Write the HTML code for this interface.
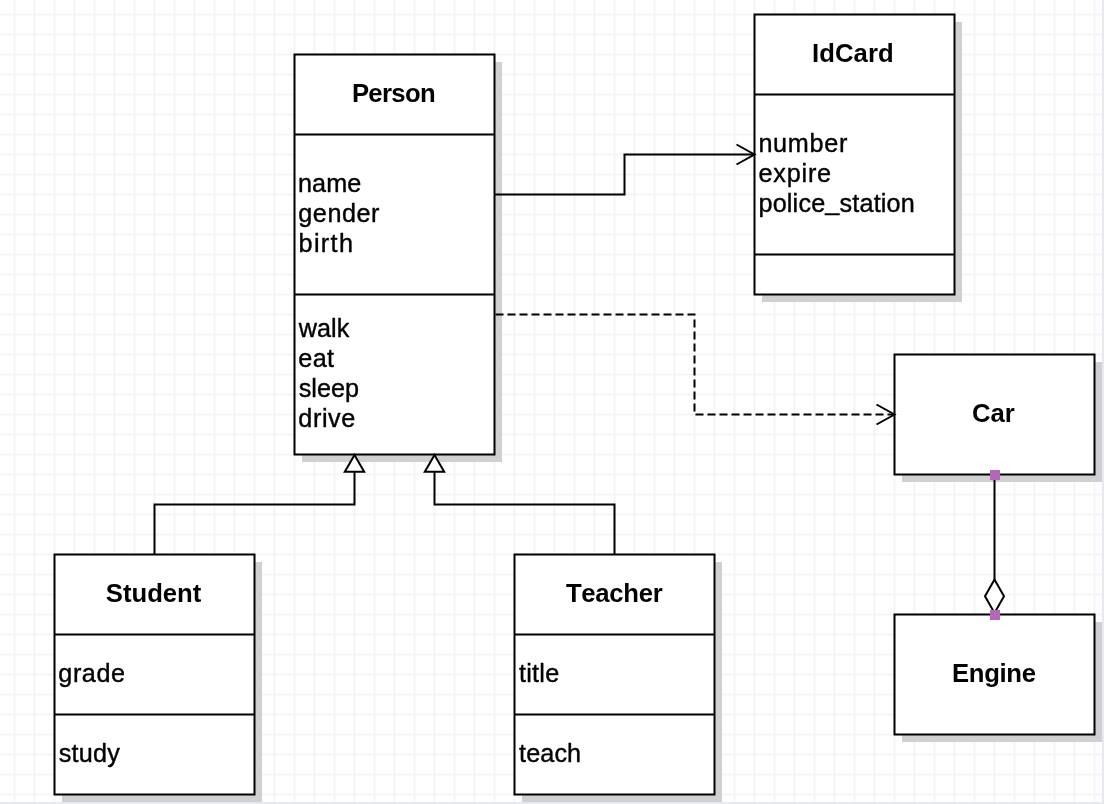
<!DOCTYPE html>
<html><head><meta charset="utf-8"><style>
html,body{margin:0;padding:0;background:#fff;}
svg{display:block;}
text{font-family:"Liberation Sans",sans-serif;fill:#000;font-kerning:none;font-feature-settings:"kern" 0,"liga" 0;}
</style></head><body>
<svg width="1104" height="804" viewBox="0 0 1104 804">
<rect width="1104" height="804" fill="#fff"/>
<path d="M14.5 0V804M34.5 0V804M54.5 0V804M74.5 0V804M94.5 0V804M114.5 0V804M134.5 0V804M154.5 0V804M174.5 0V804M194.5 0V804M214.5 0V804M234.5 0V804M254.5 0V804M274.5 0V804M294.5 0V804M314.5 0V804M334.5 0V804M354.5 0V804M374.5 0V804M394.5 0V804M414.5 0V804M434.5 0V804M454.5 0V804M474.5 0V804M494.5 0V804M514.5 0V804M534.5 0V804M554.5 0V804M574.5 0V804M594.5 0V804M614.5 0V804M634.5 0V804M654.5 0V804M674.5 0V804M694.5 0V804M714.5 0V804M734.5 0V804M754.5 0V804M774.5 0V804M794.5 0V804M814.5 0V804M834.5 0V804M854.5 0V804M874.5 0V804M894.5 0V804M914.5 0V804M934.5 0V804M954.5 0V804M974.5 0V804M994.5 0V804M1014.5 0V804M1034.5 0V804M1054.5 0V804M1074.5 0V804M1094.5 0V804M0 14.5H1104M0 34.5H1104M0 54.5H1104M0 74.5H1104M0 94.5H1104M0 114.5H1104M0 134.5H1104M0 154.5H1104M0 174.5H1104M0 194.5H1104M0 214.5H1104M0 234.5H1104M0 254.5H1104M0 274.5H1104M0 294.5H1104M0 314.5H1104M0 334.5H1104M0 354.5H1104M0 374.5H1104M0 394.5H1104M0 414.5H1104M0 434.5H1104M0 454.5H1104M0 474.5H1104M0 494.5H1104M0 514.5H1104M0 534.5H1104M0 554.5H1104M0 574.5H1104M0 594.5H1104M0 614.5H1104M0 634.5H1104M0 654.5H1104M0 674.5H1104M0 694.5H1104M0 714.5H1104M0 734.5H1104M0 754.5H1104M0 774.5H1104M0 794.5H1104" stroke="#f5f5f5" stroke-width="2" fill="none"/>
<rect x="302.0" y="62.0" width="200" height="400" fill="#d0d0d0"/><rect x="762.0" y="22.0" width="200" height="280" fill="#d0d0d0"/><rect x="902.0" y="362.0" width="200" height="120" fill="#d0d0d0"/><rect x="902.0" y="622.0" width="200" height="120" fill="#d0d0d0"/><rect x="62.0" y="562.0" width="200" height="240" fill="#d0d0d0"/><rect x="522.0" y="562.0" width="200" height="240" fill="#d0d0d0"/>
<rect x="294.5" y="54.5" width="200" height="400" fill="#fff" stroke="#000" stroke-width="2"/><path d="M294.5 134.5H494.5" stroke="#000" stroke-width="2"/><path d="M294.5 294.5H494.5" stroke="#000" stroke-width="2"/><rect x="754.5" y="14.5" width="200" height="280" fill="#fff" stroke="#000" stroke-width="2"/><path d="M754.5 94.5H954.5" stroke="#000" stroke-width="2"/><path d="M754.5 254.5H954.5" stroke="#000" stroke-width="2"/><rect x="894.5" y="354.5" width="200" height="120" fill="#fff" stroke="#000" stroke-width="2"/><rect x="894.5" y="614.5" width="200" height="120" fill="#fff" stroke="#000" stroke-width="2"/><rect x="54.5" y="554.5" width="200" height="240" fill="#fff" stroke="#000" stroke-width="2"/><path d="M54.5 634.5H254.5" stroke="#000" stroke-width="2"/><path d="M54.5 714.5H254.5" stroke="#000" stroke-width="2"/><rect x="514.5" y="554.5" width="200" height="240" fill="#fff" stroke="#000" stroke-width="2"/><path d="M514.5 634.5H714.5" stroke="#000" stroke-width="2"/><path d="M514.5 714.5H714.5" stroke="#000" stroke-width="2"/>

<g fill="none" stroke="#000" stroke-width="2">
<path d="M494.5 194.5H624.5V154.5H753"/>
<path d="M736.5 144.5L754.5 154.5L736.5 164.5"/>
<path d="M494.5 314.5H694.5V414.5H893" stroke-dasharray="8 4" stroke-dashoffset="-1"/>
<path d="M876.5 404.5L894.5 414.5L876.5 424.5"/>
<path d="M154.5 554.5V504.5H354.5V472"/>
<path d="M614.5 554.5V504.5H434.5V472"/>
<path d="M994.5 474.5V580"/>
</g>
<g fill="#fff" stroke="#000" stroke-width="2">
<path d="M354.5 455L364.2 471.8H344.8Z"/>
<path d="M434.5 455L444.2 471.8H424.8Z"/>
<path d="M994.5 579.6L1004 596.3L994.5 613L985 596.3Z"/>
</g>
<rect x="990" y="470" width="10" height="10" fill="#b466b8"/>
<rect x="990" y="610" width="10" height="10" fill="#b466b8"/>

<g style="opacity:0.999"><text transform="translate(351.88,102) scale(1.0000,1)" font-weight="bold" font-size="25.7" letter-spacing="-0.643">Person</text><text transform="translate(811.98,62) scale(1.0000,1)" font-weight="bold" font-size="25.7" letter-spacing="0.084">IdCard</text><text transform="translate(971.95,422) scale(1.0000,1)" font-weight="bold" font-size="25.7" letter-spacing="0.044">Car</text><text transform="translate(952.08,682) scale(1.0000,1)" font-weight="bold" font-size="25.7" letter-spacing="-0.355">Engine</text><text transform="translate(105.76,602) scale(1.0000,1)" font-weight="bold" font-size="25.7" letter-spacing="0.001">Student</text><text transform="translate(565.91,602) scale(1.0000,1)" font-weight="bold" font-size="25.7" letter-spacing="-0.282">Teacher</text><text transform="translate(298.03,191.8) scale(1.0000,1)" font-weight="normal" font-size="25.2" letter-spacing="0.085" stroke="#000" stroke-width="0.4">name</text><text transform="translate(298.34,221.8) scale(1.0000,1)" font-weight="normal" font-size="25.2" letter-spacing="0.522" stroke="#000" stroke-width="0.4">gender</text><text transform="translate(298.58,251.8) scale(1.0000,1)" font-weight="normal" font-size="25.2" letter-spacing="1.335" stroke="#000" stroke-width="0.4">birth</text><text transform="translate(298.74,337.2) scale(1.0000,1)" font-weight="normal" font-size="25.2" letter-spacing="0.038" stroke="#000" stroke-width="0.4">walk</text><text transform="translate(298.33,367.2) scale(1.0000,1)" font-weight="normal" font-size="25.2" letter-spacing="0.312" stroke="#000" stroke-width="0.4">eat</text><text transform="translate(298.70,397.2) scale(1.0000,1)" font-weight="normal" font-size="25.2" letter-spacing="0.029" stroke="#000" stroke-width="0.4">sleep</text><text transform="translate(298.34,427.2) scale(1.0000,1)" font-weight="normal" font-size="25.2" letter-spacing="0.589" stroke="#000" stroke-width="0.4">drive</text><text transform="translate(758.38,151.9) scale(1.0000,1)" font-weight="normal" font-size="25.2" letter-spacing="0.720" stroke="#000" stroke-width="0.4">number</text><text transform="translate(758.53,181.9) scale(1.0000,1)" font-weight="normal" font-size="25.2" letter-spacing="0.791" stroke="#000" stroke-width="0.4">expire</text><text transform="translate(758.48,211.9) scale(1.0000,1)" font-weight="normal" font-size="25.2" letter-spacing="0.174" stroke="#000" stroke-width="0.4">police<tspan dy="-2">_</tspan><tspan dy="2">station</tspan></text><text transform="translate(58.34,681.9) scale(1.0000,1)" font-weight="normal" font-size="25.2" letter-spacing="0.556" stroke="#000" stroke-width="0.4">grade</text><text transform="translate(58.70,761.7) scale(1.0000,1)" font-weight="normal" font-size="25.2" letter-spacing="0.255" stroke="#000" stroke-width="0.4">study</text><text transform="translate(519.02,681.9) scale(1.0000,1)" font-weight="normal" font-size="25.2" letter-spacing="0.247" stroke="#000" stroke-width="0.4">title</text><text transform="translate(519.02,761.7) scale(1.0000,1)" font-weight="normal" font-size="25.2" letter-spacing="0.118" stroke="#000" stroke-width="0.4">teach</text></g>
<rect x="1102" y="0" width="2" height="804" fill="#e6e9f1"/>
<rect x="0" y="802" width="1104" height="2" fill="#e6e9f1"/>
</svg>
</body></html>
